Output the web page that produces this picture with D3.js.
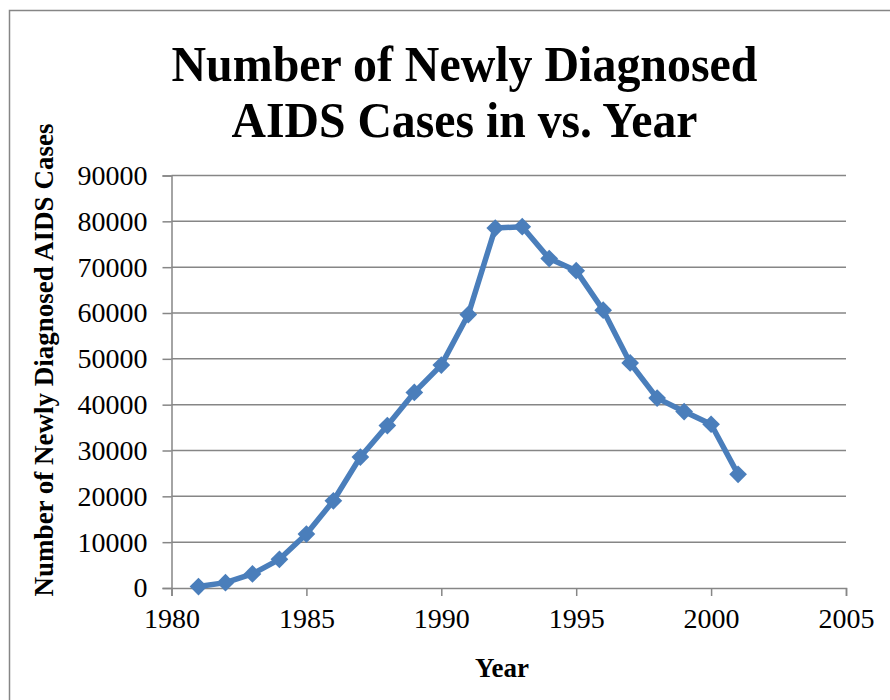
<!DOCTYPE html>
<html>
<head>
<meta charset="utf-8">
<script src="https://cdn.jsdelivr.net/npm/d3@7/dist/d3.min.js"></script>
<style>
  html, body { margin: 0; padding: 0; background: #fff; }
  svg { display: block; }
</style>
</head>
<body>
<svg id="chart" width="890" height="700"></svg>
<script>
// Newly diagnosed AIDS cases per year
const years = [1981, 1982, 1983, 1984, 1985, 1986, 1987, 1988, 1989, 1990,
               1991, 1992, 1993, 1994, 1995, 1996, 1997, 1998, 1999, 2000, 2001];
const cases = [318, 1170, 3076, 6248, 11776, 19032, 28571, 35447, 42674, 48634,
               59660, 78530, 78834, 71874, 69242, 60620, 49101, 41428, 38499, 35726, 24791];
const xTicks = [1980, 1985, 1990, 1995, 2000, 2005];
const yTicks = [0, 10000, 20000, 30000, 40000, 50000, 60000, 70000, 80000, 90000];
const titleLines = ["Number of Newly Diagnosed", "AIDS Cases in vs. Year"];

const svg = d3.select("#chart");
const serif = "'Liberation Serif', 'Times New Roman', serif";
const gridColor = "#868686";
const lineColor = "#4a7ebb";

// chart frame
svg.append("rect")
  .attr("x", 9.5).attr("y", 10.5)
  .attr("width", 900).attr("height", 700)
  .attr("fill", "none").attr("stroke", gridColor).attr("stroke-width", 1.5);

const x = d3.scaleLinear().domain([1980, 2005]).range([171.5, 846]);
const y = d3.scaleLinear().domain([0, 90000]).range([588, 175.5]);

// title (two lines, fitted to their widths)
const titleWidths = [586, 466];
svg.append("g").selectAll("text").data(titleLines).join("text")
  .attr("x", 464.5)
  .attr("y", (d, i) => 81 + i * 56)
  .attr("text-anchor", "middle")
  .attr("font-family", serif).attr("font-weight", "bold")
  .attr("font-size", 50)
  .attr("textLength", (d, i) => titleWidths[i])
  .attr("lengthAdjust", "spacingAndGlyphs")
  .attr("fill", "#000")
  .text(d => d);

// horizontal gridlines
svg.append("g").selectAll("line").data(yTicks.filter(t => t > 0)).join("line")
  .attr("x1", x(1980)).attr("x2", x(2005))
  .attr("y1", d => y(d)).attr("y2", d => y(d))
  .attr("stroke", gridColor).attr("stroke-width", 1.5);

// y axis
const yAxis = svg.append("g")
  .attr("transform", `translate(${x(1980)},0)`)
  .call(d3.axisLeft(y).tickValues(yTicks).tickSize(9).tickPadding(15).tickFormat(d3.format("d")));
yAxis.select(".domain").attr("stroke", gridColor).attr("stroke-width", 1.5);
yAxis.selectAll(".tick line").attr("stroke", gridColor).attr("stroke-width", 1.5);
yAxis.selectAll(".tick text")
  .attr("font-family", serif).attr("font-size", 28).attr("fill", "#000");

// x axis
const xAxis = svg.append("g")
  .attr("transform", `translate(0,${y(0)})`)
  .call(d3.axisBottom(x).tickValues(xTicks).tickSize(8).tickPadding(12).tickFormat(d3.format("d")));
xAxis.select(".domain").attr("stroke", gridColor).attr("stroke-width", 1.5);
xAxis.selectAll(".tick line").attr("stroke", gridColor).attr("stroke-width", 1.5);
xAxis.selectAll(".tick text")
  .attr("font-family", serif).attr("font-size", 28).attr("fill", "#000");

// axis titles
svg.append("text")
  .attr("x", 502).attr("y", 677)
  .attr("text-anchor", "middle")
  .attr("font-family", serif).attr("font-weight", "bold").attr("font-size", 27)
  .text("Year");

svg.append("text")
  .attr("transform", "translate(53,360) rotate(-90)")
  .attr("text-anchor", "middle")
  .attr("font-family", serif).attr("font-weight", "bold").attr("font-size", 27)
  .text("Number of Newly Diagnosed AIDS Cases");

// series line
const pts = years.map((yr, i) => [yr, cases[i]]);
svg.append("path")
  .datum(pts)
  .attr("fill", "none")
  .attr("stroke", lineColor).attr("stroke-width", 5.5)
  .attr("stroke-linejoin", "round")
  .attr("d", d3.line().x(d => x(d[0])).y(d => y(d[1])));

// diamond markers
svg.append("g").selectAll("path").data(pts).join("path")
  .attr("transform", d => `translate(${x(d[0])},${y(d[1])})`)
  .attr("d", d3.symbol().type(d3.symbolDiamond2).size(200))
  .attr("fill", lineColor);
</script>
</body>
</html>
